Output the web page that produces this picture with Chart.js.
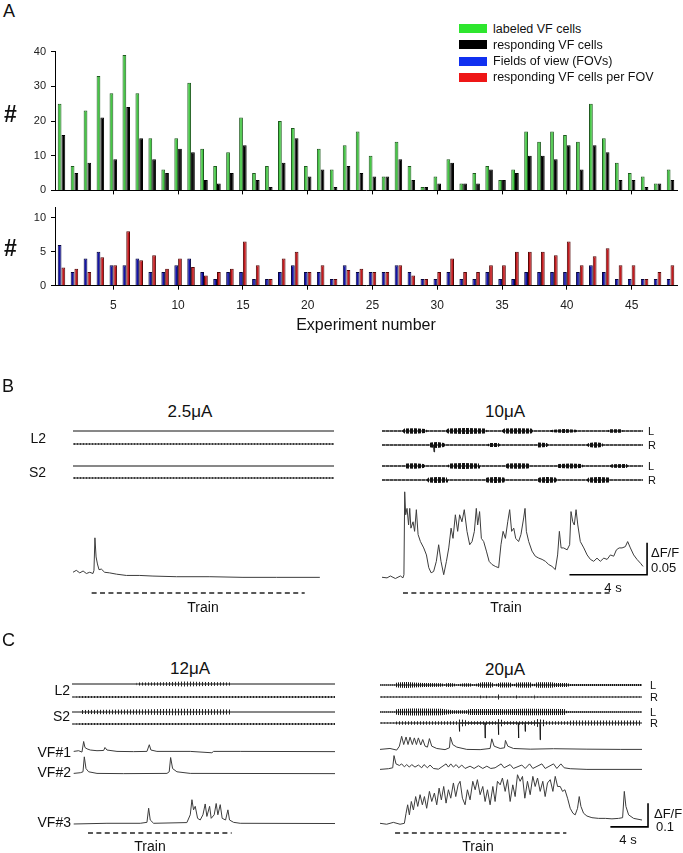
<!DOCTYPE html>
<html>
<head>
<meta charset="utf-8">
<script src="https://cdn.jsdelivr.net/npm/chart.js@4.4.0/dist/chart.umd.min.js"></script>
<style>
  body { margin: 0; background: #fff; font-family: Arial, "Liberation Sans", sans-serif; color: #111; }
  #fig { position: relative; width: 683px; height: 853px; overflow: hidden; }
  #fig canvas { position: absolute; }
  .t { position: absolute; white-space: nowrap; line-height: 1; }
  .sw { position: absolute; width: 28px; height: 9px; }
</style>
</head>
<body>
<div id="fig"></div>
<script>
// ---- Panel A data (per experiment) ----
const experiments = [1,2,3,4,5,6,7,8,9,10,11,12,13,14,15,16,17,18,19,20,21,22,23,24,25,26,27,28,29,30,31,32,33,34,35,36,37,38,39,40,41,42,43,44,45,46,47,48];
const labeledCells = [25,7,23,33,28,39,28,15,6,15,31,12,7,11,21,5,7,20,18,7,12,6,13,17,10,4,14,7,1,4,9,2,5,7,3,6,17,14,17,16,14,25,15,8,5,4,2,6];
const respondingCells = [16,5,8,21,9,24,15,9,5,12,11,3,2,5,13,3,1,8,15,4,6,1,7,5,4,4,9,3,1,2,8,2,2,6,3,5,10,10,9,13,6,13,11,3,3,1,2,3];
const fieldsOfView = [6,2,4,5,3,3,4,2,2,3,4,2,1,2,2,1,1,2,3,2,2,1,3,2,2,2,3,2,1,1,2,1,1,2,1,1,2,2,2,2,2,3,2,1,1,1,1,1];
const respPerFov = [2.67,2.5,2,4.2,3,8,3.75,4.5,2.5,4,2.75,1.5,2,2.5,6.5,3,1,4,5,2,3,1,2.33,2.5,2,2,3,1.5,1,2,4,2,2,3,3,5,5,5,4.5,6.5,3,4.33,5.5,3,3,1,2,3];

// ---- Panel B: ΔF/F traces [time s, ΔF/F] ----
const bLeftTrace = [[0,0],[0.17,0.003],[0.35,-0.001],[0.52,0.002],[0.69,-0.002],[0.86,0],[1.03,-0.002],[1.08,0.003],[1.13,0.054],[1.19,0.024],[1.26,0.013],[1.34,0.004],[1.46,0.005],[1.63,0],[1.89,-0.001],[2.24,-0.003],[2.75,-0.005],[3.44,-0.005],[4.12,-0.006],[5.33,-0.007],[7.05,-0.007],[8.76,-0.008],[10.48,-0.008],[12.72,-0.008]];
const bRightTrace = [[0,0],[0.26,-0.001],[0.43,0.002],[0.69,-0.002],[0.95,0.002],[1.08,-0.001],[1.13,0.004],[1.17,0.134],[1.22,0.098],[1.29,0.108],[1.37,0.082],[1.43,0.108],[1.49,0.077],[1.6,0.087],[1.68,0.072],[1.77,0.106],[1.86,0.067],[1.98,0.056],[2.15,0.046],[2.29,0.035],[2.41,0.015],[2.53,0.007],[2.66,0.009],[2.8,0.025],[2.92,0.051],[3.04,0.025],[3.18,0.004],[3.32,0.025],[3.44,0.046],[3.56,0.077],[3.66,0.061],[3.78,0.098],[3.9,0.072],[4.0,0.098],[4.12,0.087],[4.24,0.106],[4.38,0.072],[4.52,0.051],[4.64,0.056],[4.76,0.072],[4.86,0.108],[4.93,0.082],[5.03,0.103],[5.12,0.061],[5.24,0.056],[5.38,0.041],[5.52,0.025],[5.67,0.02],[5.84,0.017],[6.01,0.015],[6.13,0.051],[6.24,0.072],[6.36,0.061],[6.48,0.087],[6.58,0.106],[6.68,0.072],[6.79,0.077],[6.89,0.061],[7.04,0.056],[7.16,0.067],[7.3,0.093],[7.37,0.108],[7.44,0.072],[7.56,0.056],[7.73,0.041],[7.9,0.033],[8.08,0.03],[8.25,0.028],[8.42,0.025],[8.59,0.02],[8.76,0.017],[8.93,0.012],[9.05,0.035],[9.14,0.072],[9.23,0.046],[9.36,0.046],[9.54,0.043],[9.67,0.051],[9.74,0.103],[9.83,0.087],[9.91,0.082],[10.0,0.106],[10.09,0.082],[10.22,0.056],[10.4,0.046],[10.57,0.035],[10.74,0.028],[10.91,0.025],[11.08,0.03],[11.25,0.025],[11.43,0.03],[11.6,0.028],[11.77,0.035],[11.94,0.033],[12.08,0.043],[12.22,0.046],[12.37,0.046],[12.54,0.048],[12.66,0.056],[12.8,0.046],[12.97,0.035],[13.14,0.028],[13.32,0.022],[13.45,0.017]];

// nerve recordings: burst envelopes [time s, amplitude a.u.]
const bLeftL2 = [[0,0],[13.45,0]];
const bLeftL2b = [[0,0.25],[13.45,0.25]];
const bLeftS2 = [[0,0],[13.45,0]];
const bLeftS2b = [[0,0.25],[13.45,0.25]];
const bRightL1 = [[0,0.15],[1.05,0.15],[1.15,0.8],[1.7,0.9],[2.25,0.7],[2.32,0.15],[3.28,0.15],[3.4,0.8],[4.3,1],[5.3,0.8],[5.41,0.15],[6.17,0.15],[6.3,0.8],[7,0.9],[7.7,0.8],[7.78,0.15],[8.64,0.15],[8.8,0.4],[9.4,0.7],[10,0.4],[10.05,0.15],[11.63,0.15],[11.75,0.6],[12.3,0.6],[12.42,0.15],[13.45,0.15]];
const bRightR1 = [[0,0.15],[2.4,0.15],[2.5,0.8],[2.85,1],[3.2,0.7],[3.25,0.15],[5.44,0.15],[5.55,0.7],[6.0,0.7],[6.08,0.15],[7.97,0.15],[8.05,0.8],[8.5,0.7],[8.56,0.15],[10.55,0.15],[10.65,0.7],[11.0,0.9],[11.35,0.7],[11.39,0.15],[13.45,0.15]];
const bRightL2 = [[0,0.15],[1.17,0.15],[1.25,0.8],[1.7,0.9],[2.15,0.7],[2.22,0.15],[3.38,0.15],[3.5,0.8],[4.2,1],[5.0,0.8],[5.05,0.15],[6.32,0.15],[6.45,0.8],[7,0.9],[7.55,0.8],[7.63,0.15],[9.0,0.15],[9.1,0.7],[9.7,0.8],[10.3,0.7],[10.36,0.15],[11.73,0.15],[11.85,0.6],[12.6,0.7],[12.68,0.15],[13.45,0.15]];
const bRightR2 = [[0,0.15],[2.3,0.15],[2.4,0.8],[2.85,1],[3.35,0.8],[3.4,0.15],[5.29,0.15],[5.4,0.8],[5.85,1],[6.3,0.8],[6.34,0.15],[7.97,0.15],[8.1,0.8],[8.5,1],[8.95,0.8],[9.02,0.15],[10.55,0.15],[10.65,0.8],[11.15,1],[11.7,0.8],[11.75,0.15],[13.45,0.15]];
const bRightR1Dips = [[2.68,2.3]];
const bTrainLeft = [0.96, 11.94];
const bTrainRight = [1.08, 11.75];

// ---- Panel C ----
const cLeftVF1 = [[0.18,0],[0.71,0.003],[1.06,-0.003],[1.24,0.043],[1.38,0.017],[1.6,0.011],[1.95,0.006],[2.66,0.003],[3.37,0.004],[3.51,0.017],[3.72,0.006],[4.79,0],[6.56,-0.001],[7.98,0],[8.23,0.029],[8.4,0.006],[9.04,0],[12.59,0],[14.89,-0.006],[15.07,0],[17.91,0],[28,-0.001]];
const cLeftVF2 = [[0.18,0],[0.89,0.003],[1.17,0.007],[1.31,0.072],[1.49,0.021],[1.77,0.007],[2.66,0],[5.5,-0.001],[10.11,0],[10.35,0.007],[10.5,0.069],[10.71,0.021],[11.17,0.007],[12.59,0],[28,-0.001]];
const cLeftVF3 = [[0.18,-0.003],[3.72,0],[7.27,0],[7.98,0.004],[8.16,0.064],[8.33,0.014],[8.69,0],[12.23,0.003],[12.59,0.036],[12.77,0.1],[12.94,0.057],[13.12,0.072],[13.37,0.021],[13.65,0.014],[13.94,0.036],[14.18,0.082],[14.36,0.029],[14.65,0.072],[14.82,0.021],[15.14,0.036],[15.35,0.084],[15.53,0.036],[15.78,0.079],[15.99,0.021],[16.35,0.014],[16.6,0.057],[16.77,0.014],[17.2,0.004],[17.91,0],[28,-0.001]];
const cRightVF1 = [[0,0],[1.06,0.004],[1.77,-0.003],[2.06,0.014],[2.3,0.057],[2.52,0.021],[2.77,0.054],[2.98,0.021],[3.19,0.053],[3.44,0.021],[3.65,0.05],[3.87,0.021],[4.08,0.05],[4.33,0.019],[4.54,0.043],[4.79,0.014],[5.04,0.01],[5.25,0.047],[5.5,0.014],[6.03,0.004],[6.91,-0.001],[7.38,0.007],[7.48,0.054],[7.73,0.021],[8.16,0.01],[9.22,0],[10.64,-0.001],[11.7,0.004],[11.88,0.046],[12.13,0.014],[12.77,0.004],[13.23,0.007],[13.33,0.039],[13.58,0.014],[14.18,0.004],[15.96,0.001],[18.44,0.003],[21.99,0.001],[25.53,0],[27.84,0]];
const cRightVF2 = [[0,0],[0.89,0.003],[1.35,0.007],[1.49,0.06],[1.7,0.024],[2.06,0.017],[2.3,0.024],[2.59,0.011],[2.84,0.021],[3.12,0.01],[3.37,0.021],[3.72,0.01],[4.08,0.019],[4.43,0.007],[4.68,0.021],[5.04,0.007],[5.32,0.019],[5.67,0.004],[6.21,0.001],[7.02,0.024],[7.27,0.01],[7.52,0.024],[7.8,0.01],[8.09,0.021],[8.37,0.007],[8.69,0.019],[9.04,0.004],[9.57,0.014],[10.0,0.004],[10.46,0.016],[10.92,0.004],[11.35,0.014],[11.77,0.004],[12.23,0.007],[12.87,0.024],[13.19,0.007],[13.83,0.021],[14.18,0.004],[15.07,0.019],[15.43,0.004],[15.89,0.024],[16.24,0.004],[17.2,0.024],[17.55,0.004],[18.44,0.024],[18.79,0.004],[19.22,0.024],[19.57,0.007],[20.21,0.003],[21.99,0],[27.84,0]];
const cRightVF3 = [[0,0],[0.71,-0.004],[1.42,0.004],[2.13,-0.004],[2.59,0],[2.77,0.043],[2.94,0.079],[3.12,0.036],[3.33,0.093],[3.55,0.057],[3.79,0.114],[4.01,0.072],[4.26,0.122],[4.5,0.079],[4.72,0.114],[4.96,0.064],[5.25,0.136],[5.5,0.093],[5.78,0.129],[6.03,0.079],[6.28,0.15],[6.52,0.1],[6.77,0.157],[7.02,0.086],[7.27,0.143],[7.52,0.107],[7.8,0.172],[8.05,0.114],[8.3,0.164],[8.51,0.179],[8.76,0.107],[9.04,0.079],[9.29,0.143],[9.57,0.1],[9.86,0.179],[10.11,0.143],[10.35,0.186],[10.64,0.122],[10.92,0.157],[11.17,0.093],[11.42,0.143],[11.7,0.079],[11.99,0.157],[12.23,0.093],[12.48,0.179],[12.77,0.164],[13.01,0.193],[13.3,0.136],[13.55,0.186],[13.83,0.093],[14.11,0.164],[14.36,0.114],[14.61,0.207],[14.89,0.179],[15.14,0.2],[15.39,0.107],[15.67,0.179],[15.96,0.122],[16.24,0.2],[16.49,0.157],[16.74,0.193],[17.02,0.136],[17.3,0.179],[17.55,0.114],[17.8,0.172],[18.09,0.186],[18.37,0.136],[18.62,0.2],[18.87,0.157],[19.15,0.157],[19.4,0.136],[19.65,0.143],[19.93,0.107],[20.21,0.064],[20.5,0.043],[20.74,0.036],[20.99,0.064],[21.17,0.114],[21.35,0.072],[21.63,0.043],[21.99,0.031],[22.52,0.024],[23.23,0.021],[23.94,0.021],[24.65,0.019],[25.35,0.021],[25.78,0.024],[25.96,0.136],[26.13,0.072],[26.42,0.036],[26.95,0.021],[27.84,0.014]];

const cLeftL2 = [[0,0],[6.85,0],[6.91,0.5],[9.75,0.6],[12,0.8],[14.36,0.7],[17,0.5],[17.02,0],[28,0]];
const cLeftL2b = [[0,0],[1.06,0.35],[28,0.35]];
const cLeftS2 = [[0,0],[1.0,0],[1.06,0.7],[8.3,0.9],[11,1.1],[13.6,1],[17,0.8],[17.02,0],[28,0]];
const cLeftS2b = [[0,0],[1.06,0.35],[28,0.35]];
const cRightL1 = [[0,0.15],[1.6,0.2],[1.77,0.8],[2.84,1],[3.55,0.8],[4.61,0.7],[6.56,0.6],[6.91,0.2],[7.09,0.7],[7.8,0.6],[8.16,0.2],[8.87,0.6],[9.57,0.6],[9.93,0.2],[10.82,0.9],[11.88,0.9],[12.13,0.2],[12.77,0.8],[13.83,0.8],[14.18,0.2],[14.54,0.8],[15.96,0.9],[16.31,0.2],[16.67,0.9],[18.26,0.9],[18.62,0.7],[19.86,0.7],[20.21,0.3],[27.84,0.3]];
const cRightR1 = [[0,0.2],[1.85,0.2],[1.95,0.5],[2.05,0.2],[8.23,0.2],[8.33,1.1],[8.43,0.2],[10.54,0.2],[10.64,0.6],[10.74,0.2],[11.25,0.2],[11.35,0.5],[11.45,0.2],[12.49,0.2],[12.59,1.1],[12.69,0.2],[14.44,0.2],[14.54,0.7],[14.64,0.2],[16.39,0.2],[16.49,1.1],[16.59,0.2],[18.41,0.2],[18.51,0.8],[18.61,0.2],[27.84,0.2]];
const cRightL2 = [[0,0.2],[1.6,0.2],[1.77,1],[3.5,1.2],[6.5,1.1],[7.8,0.6],[9.2,0.6],[9.5,1],[12.8,1],[13.2,0.9],[15.5,1.1],[19.6,1],[19.86,0.25],[27.84,0.2]];
const cRightR2 = [[0,0.2],[1.6,0.2],[1.8,0.6],[8.2,0.6],[8.33,1.2],[9.04,1.1],[9.2,0.6],[12.4,0.6],[12.6,1.3],[12.94,1.1],[13.1,0.6],[16.3,0.6],[16.6,1.3],[17.38,1.1],[17.6,0.6],[20.0,0.6],[20.3,0.8],[27.84,0.8]];
const cRightR2Dips = [[8.44,2.8],[11.17,5],[12.59,3.9],[14.72,5],[15.43,2.8],[17.02,5.6]];
const cTrainLeft = [1.7, 17.0];
const cTrainRight = [1.6, 19.8];

// colours
const GREEN = '#46c846', GREEN_EDGE = '#1f5a1f';
const BLUE = '#1414a8', BLUE_EDGE = '#05053f';
const RED = '#c41a1e', RED_EDGE = '#550808';
const TRACE = '#3c3c3c', NERVE = '#111';
const FONT = 'Arial, "Liberation Sans", sans-serif';

const fig = document.getElementById('fig');

function label(text, x, y, size, align, extra) {
  const d = document.createElement('div');
  d.className = 't';
  d.textContent = text;
  d.style.fontSize = size + 'px';
  d.style.left = x + 'px';
  d.style.top = y + 'px';
  const tx = align === 'left' ? '0' : align === 'right' ? '-100%' : '-50%';
  d.style.transform = `translate(${tx},-50%)`;
  if (extra) Object.assign(d.style, extra);
  fig.appendChild(d);
}

function makeCanvas(x, y, w, h) {
  const c = document.createElement('canvas');
  c.width = w; c.height = h;
  c.style.left = x + 'px'; c.style.top = y + 'px';
  c.style.width = w + 'px'; c.style.height = h + 'px';
  fig.appendChild(c);
  return c;
}

// vertical-stripe fill so bursts read as dense spikes, not solid blocks
function spikeFill(col, on, period) {
  const p = document.createElement('canvas');
  p.width = period; p.height = 1;
  const g = p.getContext('2d');
  g.fillStyle = col;
  g.fillRect(0, 0, on, 1);
  return g.createPattern(p, 'repeat');
}
const DENSE = spikeFill('#111', 3, 4);
const MEDIUM = spikeFill('#111', 1, 2);
const SPARSE = spikeFill('#222', 1, 3);

// scale bar drawn through the chart's own scales
Chart.register({
  id: 'scalebar',
  afterDatasetsDraw(chart, args, opts) {
    if (!opts || !opts.sec) return;
    const { ctx, scales: { x, y } } = chart;
    const px = x.getPixelForValue(opts.t), py = y.getPixelForValue(opts.dff);
    ctx.save();
    ctx.strokeStyle = '#000';
    ctx.lineWidth = 1.6;
    ctx.beginPath();
    ctx.moveTo(x.getPixelForValue(opts.t - opts.sec), py);
    ctx.lineTo(px, py);
    ctx.lineTo(px, y.getPixelForValue(opts.dff + opts.dffLen));
    ctx.stroke();
    ctx.restore();
  }
});

// ---------- Panel A ----------
const pairs = (xs, ys) => xs.map((x, i) => ({ x, y: ys[i] }));
const barAxisX = (showLabels, extra) => Object.assign({
  type: 'linear', min: 0.5, max: 48.5, offset: false,
  ticks: { display: showLabels, stepSize: 5, includeBounds: false, color: '#222', font: { family: FONT, size: 12 }, padding: 9, maxRotation: 0 },
  afterBuildTicks: s => { s.ticks = s.ticks.filter(t => t.value % 5 === 0 && t.value > 0); },
  grid: { offset: false, drawOnChartArea: false, tickLength: 4, color: '#000' },
  border: { color: '#000', width: 1 }
}, extra);
const barAxisY = (max, step) => ({
  min: 0, max,
  ticks: { stepSize: step, includeBounds: false, color: '#222', font: { family: FONT, size: 11 }, padding: 5 },
  afterFit: s => { s.width = 55; },
  grid: { drawOnChartArea: false, tickLength: 4, color: '#000' },
  border: { color: '#000', width: 1 }
});
const barDs = (lbl, ys, bg, edge) => ({
  label: lbl, data: pairs(experiments, ys), backgroundColor: bg,
  borderColor: edge, borderWidth: 1, categoryPercentage: 0.58, barPercentage: 1
});

new Chart(makeCanvas(0, 40, 683, 162), {
  type: 'bar',
  data: { datasets: [
    barDs('labeled VF cells', labeledCells, GREEN, GREEN_EDGE),
    barDs('responding VF cells', respondingCells, '#000', '#000')
  ] },
  options: {
    responsive: false, animation: false,
    layout: { padding: { top: 10, right: 6, left: 0, bottom: 0 } },
    plugins: { legend: { display: false }, tooltip: { enabled: false } },
    scales: {
      x: barAxisX(false, { afterFit: s => { s.height = 9; } }),
      y: barAxisY(40, 10)
    }
  }
});

new Chart(makeCanvas(0, 196, 683, 140), {
  type: 'bar',
  data: { datasets: [
    barDs('Fields of view (FOVs)', fieldsOfView, BLUE, BLUE_EDGE),
    barDs('responding VF cells per FOV', respPerFov, RED, RED_EDGE)
  ] },
  options: {
    responsive: false, animation: false,
    layout: { padding: { top: 8.4, right: 6, left: 0, bottom: 0 } },
    plugins: { legend: { display: false }, tooltip: { enabled: false } },
    scales: {
      x: barAxisX(true, {
        afterFit: s => { s.height = 50.3; },
        title: { display: true, text: 'Experiment number', color: '#111', font: { family: FONT, size: 16 }, padding: { top: 0, bottom: 1 } }
      }),
      y: barAxisY(11.5, 5)
    }
  }
});

label('A', 3, 11, 18, 'left');
label('#', 4, 114, 23, 'left', { fontWeight: 'bold' });
label('#', 4, 248, 23, 'left', { fontWeight: 'bold' });

// legend
[['labeled VF cells', '#2ee62e'], ['responding VF cells', '#000'], ['Fields of view (FOVs)', '#1030f0'], ['responding VF cells per FOV', '#ee1616']]
  .forEach(([txt, col], i) => {
    const cy = 28.5 + i * 16.3;
    const sw = document.createElement('div');
    sw.className = 'sw';
    sw.style.left = '459px'; sw.style.top = (cy - 4.5) + 'px'; sw.style.background = col;
    fig.appendChild(sw);
    label(txt, 493, cy, 12.5, 'left');
  });

// ---------- traces ----------
const pts = arr => arr.map(p => ({ x: p[0], y: p[1] }));
const PAD = 20;

function traceChart(box, xr, yr, datasets, scalebar) {
  const c = makeCanvas(box.x - PAD, box.y - PAD, Math.round(box.w + 2 * PAD), Math.round(box.h + 2 * PAD));
  return new Chart(c, {
    type: 'line',
    data: { datasets },
    options: {
      responsive: false, animation: false,
      layout: { padding: PAD },
      plugins: { legend: { display: false }, tooltip: { enabled: false }, scalebar: scalebar || {} },
      scales: {
        x: { type: 'linear', display: false, min: xr[0], max: xr[1] },
        y: { type: 'linear', display: false, min: yr[0], max: yr[1] }
      },
      elements: { point: { radius: 0 }, line: { tension: 0 } }
    }
  });
}

const lineDs = (arr, col, w) => ({ data: pts(arr), borderColor: col || TRACE, borderWidth: w || 1, fill: false, clip: false });

// nerve recording: baseline plus an envelope band of spikes
function nerve(box, xr, env, fillStyle, dips) {
  const ds = [
    { data: env.map(p => ({ x: p[0], y: p[1] })), borderWidth: 0, fill: false, clip: false },
    { data: env.map(p => ({ x: p[0], y: -p[1] })), borderWidth: 0, backgroundColor: fillStyle, fill: '-1', clip: false },
    { data: [{ x: xr[0], y: 0 }, { x: xr[1], y: 0 }], borderColor: NERVE, borderWidth: 1, fill: false, clip: false }
  ];
  if (dips) {
    const d = [];
    dips.forEach(p => { d.push({ x: p[0] - 0.03, y: 0 }, { x: p[0], y: -p[1] }, { x: p[0] + 0.03, y: 0 }); });
    ds.push({ data: d, borderColor: NERVE, borderWidth: 0.9, fill: false, clip: false });
  }
  traceChart(box, xr, [-2, 2], ds);
}

function train(x, y, w, xr, span) {
  traceChart({ x, y: y - 2, w, h: 4 }, xr, [-1, 1], [{
    data: [{ x: span[0], y: 0 }, { x: span[1], y: 0 }],
    borderColor: '#222', borderWidth: 1.3, borderDash: [5, 3.4], fill: false, clip: false
  }]);
}

// ---------- Panel B ----------
label('B', 2, 386, 18, 'left');
label('2.5\u03bcA', 190, 411, 17);
label('10\u03bcA', 505, 411, 17);

const BX = [0, 13.45];
nerve({ x: 73.3, y: 425, w: 261, h: 12 }, BX, bLeftL2, SPARSE);
nerve({ x: 73.3, y: 438, w: 261, h: 12 }, BX, bLeftL2b, SPARSE);
nerve({ x: 73.3, y: 460, w: 261, h: 12 }, BX, bLeftS2, SPARSE);
nerve({ x: 73.3, y: 472, w: 261, h: 12 }, BX, bLeftS2b, SPARSE);
label('L2', 46, 438, 14, 'right');
label('S2', 46, 472, 14, 'right');

nerve({ x: 382, y: 425, w: 261, h: 12 }, BX, bRightL1, DENSE);
nerve({ x: 382, y: 439, w: 261, h: 12 }, BX, bRightR1, DENSE, bRightR1Dips);
nerve({ x: 382, y: 460, w: 261, h: 12 }, BX, bRightL2, DENSE);
nerve({ x: 382, y: 474, w: 261, h: 12 }, BX, bRightR2, DENSE);
label('L', 648, 431, 11, 'left');
label('R', 648, 445, 11, 'left');
label('L', 648, 466, 11, 'left');
label('R', 648, 480, 11, 'left');

traceChart({ x: 73.3, y: 533.6, w: 261, h: 51.2 }, BX, [-0.02, 0.06], [lineDs(bLeftTrace)]);
traceChart({ x: 382, y: 488.1, w: 261, h: 102.4 }, BX, [-0.02, 0.14], [lineDs(bRightTrace)],
  { t: 13.66, dff: 0.004, sec: 4, dffLen: 0.05 });
label('\u0394F/F', 651, 552, 13, 'left');
label('0.05', 651, 567, 13, 'left');
label('4 s', 613, 587, 13);

train(73.3, 593, 261, BX, bTrainLeft);
train(382, 593, 261, BX, bTrainRight);
label('Train', 203, 607, 14);
label('Train', 506, 607, 14);

// ---------- Panel C ----------
label('C', 2, 640, 18, 'left');
label('12\u03bcA', 190, 668, 17);
label('20\u03bcA', 505, 669, 17);

const CLX = [0, 28], CRX = [0, 27.84];
nerve({ x: 72, y: 678.3, w: 263.2, h: 12 }, CLX, cLeftL2, SPARSE);
nerve({ x: 72, y: 690.7, w: 263.2, h: 12 }, CLX, cLeftL2b, SPARSE);
nerve({ x: 72, y: 706.3, w: 263.2, h: 12 }, CLX, cLeftS2, SPARSE);
nerve({ x: 72, y: 717.7, w: 263.2, h: 12 }, CLX, cLeftS2b, SPARSE);
label('L2', 70, 690, 14, 'right');
label('S2', 70, 716, 14, 'right');

traceChart({ x: 72, y: 733.1, w: 263.2, h: 23.3 }, CLX, [-0.02, 0.08], [lineDs(cLeftVF1)]);
traceChart({ x: 72, y: 754.7, w: 263.2, h: 23.3 }, CLX, [-0.02, 0.08], [lineDs(cLeftVF2)]);
traceChart({ x: 72, y: 795.3, w: 263.2, h: 32.6 }, CLX, [-0.02, 0.12], [lineDs(cLeftVF3)]);
label('VF#1', 71, 751.5, 14, 'right');
label('VF#2', 71, 772, 14, 'right');
label('VF#3', 71, 822, 14, 'right');

nerve({ x: 380, y: 679, w: 261.7, h: 12 }, CRX, cRightL1, MEDIUM);
nerve({ x: 380, y: 691.3, w: 261.7, h: 12 }, CRX, cRightR1, SPARSE);
nerve({ x: 380, y: 706.3, w: 261.7, h: 12 }, CRX, cRightL2, MEDIUM);
nerve({ x: 380, y: 717.3, w: 261.7, h: 12 }, CRX, cRightR2, SPARSE, cRightR2Dips);
label('L', 650, 685, 11, 'left');
label('R', 650, 697, 11, 'left');
label('L', 650, 712, 11, 'left');
label('R', 650, 723, 11, 'left');

traceChart({ x: 380, y: 731.4, w: 261.7, h: 23.3 }, CRX, [-0.02, 0.08], [lineDs(cRightVF1)]);
traceChart({ x: 380, y: 751.4, w: 261.7, h: 23.3 }, CRX, [-0.02, 0.08], [lineDs(cRightVF2)]);
traceChart({ x: 380, y: 767.4, w: 261.7, h: 60.6 }, CRX, [-0.02, 0.24], [lineDs(cRightVF3)],
  { t: 28.48, dff: -0.015, sec: 4, dffLen: 0.1 });
label('\u0394F/F', 654, 813, 13, 'left');
label('0.1', 656, 826, 13, 'left');
label('4 s', 628, 839, 13);

train(72, 833, 263.2, CLX, cTrainLeft);
train(380, 833, 261.7, CRX, cTrainRight);
label('Train', 150, 846, 14);
label('Train', 478, 846, 14);
</script>
</body>
</html>
